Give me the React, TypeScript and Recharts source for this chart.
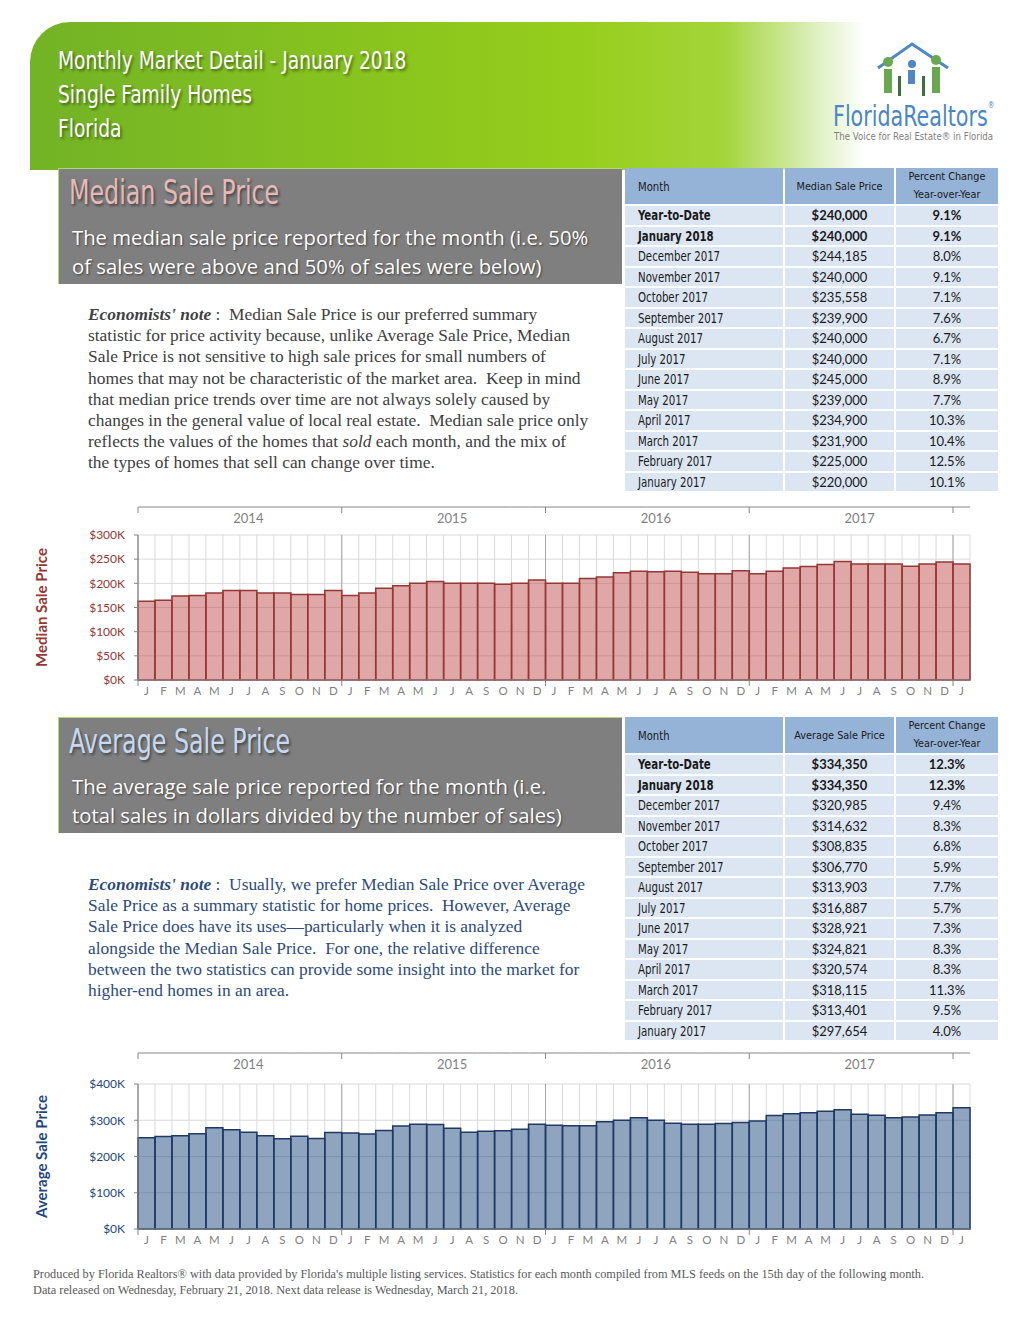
import React from "react";
import { BarChart, Bar, XAxis, YAxis, CartesianGrid } from "recharts";

const years = [2014, 2015, 2016, 2017, 2018];
const monthLetters = ["J", "F", "M", "A", "M", "J", "J", "A", "S", "O", "N", "D"];

// $K, Jan 2014 .. Jan 2018
const medianValues = [
  163, 165, 174, 175, 180, 185, 185, 180, 180, 177, 177, 185,
  175, 180, 190, 195, 200, 204, 200, 200, 200, 198, 200, 207,
  200, 200, 210, 213, 222, 225, 224, 225, 223, 220, 220, 226,
  220, 225, 231.9, 234.9, 239, 245, 240, 240, 239.9, 235.558, 240, 244.185,
  240,
];
const averageValues = [
  252, 255, 257, 263, 279, 274, 267, 257, 249, 256, 250, 266,
  265, 262, 272, 284, 289, 288, 278, 267, 270, 271, 275, 289,
  286, 285, 285, 296, 300, 307, 300, 292, 289, 289, 291, 294,
  297.654, 313.401, 318.115, 320.574, 324.821, 328.921, 316.887, 313.903, 306.77, 308.835, 314.632, 320.985,
  334.35,
];
const medianTicks = [0, 50, 100, 150, 200, 250, 300];
const averageTicks = [0, 100, 200, 300, 400];

const tableMonths = [
  "Year-to-Date", "January 2018", "December 2017", "November 2017", "October 2017",
  "September 2017", "August 2017", "July 2017", "June 2017", "May 2017",
  "April 2017", "March 2017", "February 2017", "January 2017",
];
const medianTablePrices = [240000, 240000, 244185, 240000, 235558, 239900, 240000, 240000, 245000, 239000, 234900, 231900, 225000, 220000];
const medianTablePct = [9.1, 9.1, 8.0, 9.1, 7.1, 7.6, 6.7, 7.1, 8.9, 7.7, 10.3, 10.4, 12.5, 10.1];
const averageTablePrices = [334350, 334350, 320985, 314632, 308835, 306770, 313903, 316887, 328921, 324821, 320574, 318115, 313401, 297654];
const averageTablePct = [12.3, 12.3, 9.4, 8.3, 6.8, 5.9, 7.7, 5.7, 7.3, 8.3, 8.3, 11.3, 9.5, 4.0];

const NARROW = "'Liberation Sans Narrow', 'DejaVu Sans Condensed', 'Arial Narrow', sans-serif";
const CAL = "Lato, 'Open Sans', sans-serif";
const SERIF = "'Liberation Serif', 'DejaVu Serif', serif";

const CHART_W = 960;
const CHART_H = 200;
const Y_W = 108;
const RIGHT = 20;

// horizontally squeeze a condensed-looking text
function Sq({ k, children }: { k: number; children: React.ReactNode }) {
  return (
    <span style={{ display: "inline-block", transform: `scaleX(${k})`, transformOrigin: "left center", whiteSpace: "nowrap" }}>
      {children}
    </span>
  );
}

function buildData(values: number[]) {
  return values.map((v, i) => ({
    key: `${years[Math.floor(i / 12)]}-${i % 12}`,
    m: monthLetters[i % 12],
    v,
  }));
}

function TopTick(props: any) {
  const { x, index, lineY, half } = props;
  return (
    <g>
      <line x1={x - half} x2={x + half} y1={lineY} y2={lineY} stroke="#868686" />
      {index % 12 === 0 && <line x1={x - half} x2={x - half} y1={lineY} y2={lineY + 6} stroke="#868686" />}
      {index % 12 === 6 && (
        <text x={x} y={lineY + 16} textAnchor="middle" fill="#7f7f7f" fontSize={13} fontFamily={CAL}>
          {years[Math.floor(index / 12)]}
        </text>
      )}
    </g>
  );
}

function BottomTick(props: any) {
  const { x, index, axisY, half } = props;
  return (
    <g>
      {index % 12 === 0 && <line x1={x - half} x2={x - half} y1={axisY} y2={axisY + 6} stroke="#868686" />}
      <text x={x} y={axisY + 15} textAnchor="middle" fill="#7f7f7f" fontSize={11.5} fontFamily={CAL}>
        {monthLetters[index % 12]}
      </text>
    </g>
  );
}

interface ChartProps {
  values: number[];
  ticks: number[];
  label: string;
  fill: string;
  stroke: string;
  textColor: string;
  marginTop: number;
  topH: number;
  bottomH: number;
}

function MarketChart({ values, ticks, label, fill, stroke, textColor, marginTop, topH, bottomH }: ChartProps) {
  const data = buildData(values);
  const n = data.length;
  const half = (CHART_W - Y_W - RIGHT) / n / 2;
  const axisY = CHART_H - bottomH;
  const bounds = (offset: any, every: number) => {
    const bw = offset.width / n;
    const out: number[] = [];
    for (let i = 0; i <= n; i += every) out.push(offset.left + i * bw);
    return out;
  };
  return (
    <BarChart
      width={CHART_W}
      height={CHART_H}
      data={data}
      margin={{ top: marginTop, right: RIGHT, bottom: 0, left: 0 }}
      barCategoryGap={0}
      barGap={0}
    >
      <CartesianGrid vertical={false} stroke="#d9d9d9" />
      <CartesianGrid horizontal={false} stroke="#d9d9d9" verticalCoordinatesGenerator={({ offset }: any) => bounds(offset, 1)} />
      <CartesianGrid horizontal={false} stroke="#a6a6a6" verticalCoordinatesGenerator={({ offset }: any) => bounds(offset, 12)} />
      <XAxis
        dataKey="key"
        height={bottomH}
        interval={0}
        tickLine={false}
        axisLine={{ stroke: "#868686" }}
        tick={(p: any) => <BottomTick {...p} axisY={axisY} half={half} />}
      />
      <XAxis
        xAxisId="top"
        dataKey="key"
        orientation="top"
        height={topH}
        interval={0}
        tickLine={false}
        axisLine={false}
        tick={(p: any) => <TopTick {...p} lineY={marginTop} half={half} />}
      />
      <YAxis
        width={Y_W}
        domain={[ticks[0], ticks[ticks.length - 1]]}
        ticks={ticks}
        interval={0}
        tickFormatter={(v) => `$${v}K`}
        tick={{ fill: textColor, fontSize: 12, fontFamily: CAL }}
        axisLine={{ stroke: "#868686" }}
        tickLine={{ stroke: "#868686" }}
        tickSize={4}
        tickMargin={9}
        label={{
          value: label,
          angle: -90,
          position: "insideLeft",
          offset: 12,
          style: { textAnchor: "middle", fill: textColor, fontWeight: 700, fontSize: 15, fontFamily: CAL },
        }}
      />
      <Bar dataKey="v" fill={fill} fillOpacity={0.5} stroke={stroke} strokeWidth={1.5} isAnimationActive={false} />
    </BarChart>
  );
}

interface TableProps {
  top: number;
  priceLabel: string;
  prices: number[];
  pcts: number[];
}

function PriceTable({ top, priceLabel, prices, pcts }: TableProps) {
  const widths = [158, 109, 102];
  const head = "#95b3d7";
  const cell = "#dce6f2";
  const txt = "#1a1a1a";
  return (
    <div style={{ position: "absolute", left: 625, top, width: 373 }}>
      <div style={{ display: "flex", gap: 2, height: 36, marginBottom: 2 }}>
        <div style={{ width: widths[0], background: head, fontFamily: NARROW, fontSize: 13, color: txt, display: "flex", alignItems: "center", paddingLeft: 13, boxSizing: "border-box" }}>
          <Sq k={0.86}>Month</Sq>
        </div>
        <div style={{ width: widths[1], background: head, fontFamily: NARROW, fontSize: 10.8, color: txt, display: "flex", alignItems: "center", justifyContent: "center" }}>{priceLabel}</div>
        <div style={{ width: widths[2], background: head, fontFamily: NARROW, fontSize: 10.8, color: txt, textAlign: "center", lineHeight: "18px" }}>
          Percent Change<br />Year-over-Year
        </div>
      </div>
      {tableMonths.map((m, i) => {
        const bold = i < 2 ? 700 : 400;
        return (
          <div key={m} style={{ display: "flex", gap: 2, height: 18.5, marginBottom: 2 }}>
            <div style={{ width: widths[0], background: cell, fontFamily: NARROW, fontWeight: bold, fontSize: 13.5, color: txt, paddingLeft: 13, boxSizing: "border-box", lineHeight: "19px" }}>
              <Sq k={0.84}>{m}</Sq>
            </div>
            <div style={{ width: widths[1], background: cell, fontFamily: CAL, fontWeight: bold, fontSize: 13, color: txt, textAlign: "center", lineHeight: "19px" }}>
              ${prices[i].toLocaleString("en-US")}
            </div>
            <div style={{ width: widths[2], background: cell, fontFamily: CAL, fontWeight: bold, fontSize: 13, color: txt, textAlign: "center", lineHeight: "19px" }}>
              {pcts[i].toFixed(1)}%
            </div>
          </div>
        );
      })}
    </div>
  );
}

function SectionBox({ top, title, titleColor, lines }: { top: number; title: string; titleColor: string; lines: string[] }) {
  return (
    <div style={{ position: "absolute", left: 58, top, width: 564, height: 116, background: "#7f7f7f", borderTop: "1px solid #b5d77a", borderLeft: "1px solid #b5d77a", boxSizing: "border-box" }}>
      <div style={{ position: "absolute", left: 10, top: 4, fontFamily: NARROW, fontSize: 33, color: titleColor, textShadow: "2px 2px 3px rgba(0,0,0,0.45)" }}>
        <Sq k={0.8}>{title}</Sq>
      </div>
      <div style={{ position: "absolute", left: 13, top: 54, fontFamily: "'Open Sans', Lato, sans-serif", fontSize: 20.3, lineHeight: "29px", color: "#fff", textShadow: "1px 1px 2px rgba(0,0,0,0.5)", whiteSpace: "nowrap" }}>
        {lines.map((l) => (
          <div key={l}>{l}</div>
        ))}
      </div>
    </div>
  );
}

const noteStyle: React.CSSProperties = {
  position: "absolute",
  left: 88,
  fontFamily: SERIF,
  fontSize: 17.4,
  lineHeight: "21.2px",
  whiteSpace: "nowrap",
};

export default function App() {
  return (
    <div style={{ position: "relative", width: 1024, height: 1326, background: "#fff", overflow: "hidden" }}>
      <style>{"body{margin:0}"}</style>

      {/* green banner */}
      <div
        style={{
          position: "absolute",
          left: 30,
          top: 22,
          width: 994,
          height: 148,
          borderTopLeftRadius: 40,
          background: "linear-gradient(90deg, #72b326 0%, #86c21f 30%, #96ce1c 55%, #a4d53a 70%, #d6edb0 78%, #ffffff 84%)",
        }}
      />
      <div style={{ position: "absolute", left: 58, top: 44, fontFamily: NARROW, fontSize: 25, lineHeight: "34px", color: "#fff", textShadow: "2px 2px 3px rgba(0,0,0,0.45)" }}>
        <div><Sq k={0.83}>Monthly Market Detail - January 2018</Sq></div>
        <div><Sq k={0.83}>Single Family Homes</Sq></div>
        <div><Sq k={0.83}>Florida</Sq></div>
      </div>

      {/* logo */}
      <svg style={{ position: "absolute", left: 872, top: 40 }} width={82} height={62}>
        <polyline points="6,28 40,4 76,28" fill="none" stroke="#4f86c6" strokeWidth={3} />
        <circle cx={16} cy={22} r={5} fill="#6aa84f" />
        <circle cx={64} cy={20} r={5} fill="#6aa84f" />
        <circle cx={40} cy={24} r={4} fill="#4f86c6" />
        <rect x={12} y={29} width={8} height={24} fill="#6aa84f" />
        <rect x={60} y={27} width={8} height={26} fill="#6aa84f" />
        <rect x={36} y={30} width={7} height={14} fill="#4f86c6" />
        <rect x={26} y={36} width={3} height={20} fill="#3f6f3f" />
        <rect x={50} y={36} width={3} height={20} fill="#3f6f3f" />
      </svg>
      <div style={{ position: "absolute", left: 833, top: 100, fontFamily: NARROW, fontSize: 28, color: "#4a86c5" }}>
        <Sq k={0.82}>
          FloridaRealtors<span style={{ fontSize: 9, verticalAlign: "top" }}>®</span>
        </Sq>
      </div>
      <div style={{ position: "absolute", left: 834, top: 131, fontFamily: NARROW, fontSize: 10, color: "#7f7f7f" }}>
        <Sq k={0.96}>The Voice for Real Estate® in Florida</Sq>
      </div>

      {/* median section */}
      <SectionBox
        top={168}
        title="Median Sale Price"
        titleColor="#e6b9b8"
        lines={["The median sale price reported for the month (i.e. 50%", "of sales were above and 50% of sales were below)"]}
      />
      <PriceTable top={168} priceLabel="Median Sale Price" prices={medianTablePrices} pcts={medianTablePct} />
      <div style={{ ...noteStyle, top: 304, color: "#404040" }}>
        <div>
          <b><i>Economists' note</i></b> :&nbsp; Median Sale Price is our preferred summary
        </div>
        <div>statistic for price activity because, unlike Average Sale Price, Median</div>
        <div>Sale Price is not sensitive to high sale prices for small numbers of</div>
        <div>homes that may not be characteristic of the market area.&nbsp; Keep in mind</div>
        <div>that median price trends over time are not always solely caused by</div>
        <div>changes in the general value of local real estate.&nbsp; Median sale price only</div>
        <div>
          reflects the values of the homes that <i>sold</i> each month, and the mix of
        </div>
        <div>the types of homes that sell can change over time.</div>
      </div>
      <div style={{ position: "absolute", left: 30, top: 500 }}>
        <MarketChart
          values={medianValues}
          ticks={medianTicks}
          label="Median Sale Price"
          fill="#c0504d"
          stroke="#953735"
          textColor="#953735"
          marginTop={7}
          topH={28}
          bottomH={20}
        />
      </div>

      {/* average section */}
      <SectionBox
        top={717}
        title="Average Sale Price"
        titleColor="#c6d9f1"
        lines={["The average sale price reported for the month (i.e.", "total sales in dollars divided by the number of sales)"]}
      />
      <PriceTable top={717} priceLabel="Average Sale Price" prices={averageTablePrices} pcts={averageTablePct} />
      <div style={{ ...noteStyle, top: 874, color: "#2c4b7c" }}>
        <div>
          <b><i>Economists' note</i></b> :&nbsp; Usually, we prefer Median Sale Price over Average
        </div>
        <div>Sale Price as a summary statistic for home prices.&nbsp; However, Average</div>
        <div>Sale Price does have its uses—particularly when it is analyzed</div>
        <div>alongside the Median Sale Price.&nbsp; For one, the relative difference</div>
        <div>between the two statistics can provide some insight into the market for</div>
        <div>higher-end homes in an area.</div>
      </div>
      <div style={{ position: "absolute", left: 30, top: 1050 }}>
        <MarketChart
          values={averageValues}
          ticks={averageTicks}
          label="Average Sale Price"
          fill="#1f497d"
          stroke="#1f3864"
          textColor="#1f497d"
          marginTop={3}
          topH={31}
          bottomH={21}
        />
      </div>

      {/* footer */}
      <div style={{ position: "absolute", left: 33, top: 1266, fontFamily: SERIF, fontSize: 12.3, lineHeight: "16px", color: "#595959", whiteSpace: "nowrap" }}>
        <div>
          Produced by Florida Realtors® with data provided by Florida's multiple listing services. Statistics for each month compiled from MLS feeds on the 15th day of the following month.
        </div>
        <div>Data released on Wednesday, February 21, 2018. Next data release is Wednesday, March 21, 2018.</div>
      </div>
    </div>
  );
}
